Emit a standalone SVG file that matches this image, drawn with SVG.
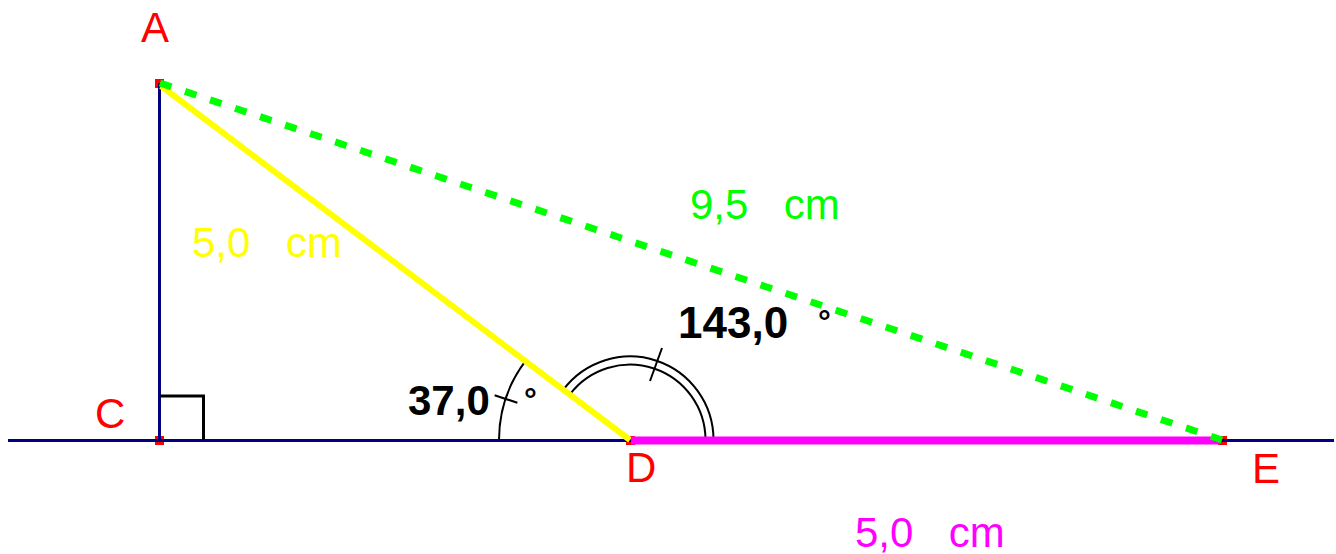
<svg xmlns="http://www.w3.org/2000/svg" width="1336" height="554" viewBox="0 0 1336 554">
<style>
text{font-family:"Liberation Sans",Arial,sans-serif;font-size:42px;white-space:pre}
.pt{fill:#ff0000}
.lbl{fill:#ff0000}
.ang{fill:#000000;font-weight:bold}
.big{font-size:44px}
.deg{fill:#000000;font-weight:bold;font-size:32px}
.len{word-spacing:6px}
.arc{fill:none;stroke:#000000;stroke-width:2}
.axis{stroke:#000080;stroke-width:3;fill:none}
</style>
<rect width="1336" height="554" fill="#ffffff"/>
<g id="A">
<rect class="pt" x="155" y="79" width="9" height="9"/>
<text class="lbl" x="141" y="42">A</text>
</g>
<g id="C">
<rect class="pt" x="155" y="436" width="9" height="9"/>
<text class="lbl" x="95" y="428">C</text>
</g>
<g id="D">
<rect class="pt" x="626" y="436" width="9" height="9"/>
<text class="lbl" x="626" y="482">D</text>
</g>
<g id="E">
<rect class="pt" x="1218" y="436" width="9" height="9"/>
<text class="lbl" x="1252" y="483">E</text>
</g>
<g id="angles">
<path class="arc" d="M 499 440 A 131 131 0 0 1 525.4 361.2"/>
<line class="arc" x1="494.6" y1="395.2" x2="517.4" y2="402.8"/>
<text class="ang" x="408" y="415">37,0</text>
<text class="deg" x="524" y="410">°</text>
<path class="arc" d="M 713.5 440 A 83.5 83.5 0 0 0 563.3 389.7"/>
<path class="arc" d="M 705.5 440 A 75.5 75.5 0 0 0 569.7 394.6"/>
<line class="arc" x1="650" y1="381" x2="662" y2="348"/>
<text class="ang big" x="678" y="338">143,0</text>
<text class="deg" x="818" y="332">°</text>
</g>
<g id="connectors">
<line class="axis" x1="8" y1="440.5" x2="1334" y2="440.5"/>
<line class="axis" x1="159.5" y1="83" x2="159.5" y2="440"/>
<polyline points="160,396 203.5,396 203.5,440" fill="none" stroke="#000000" stroke-width="3"/>
<line x1="161" y1="86" x2="630" y2="440" stroke="#ffff00" stroke-width="6"/>
<line x1="631" y1="440.5" x2="1220" y2="440.5" stroke="#ff00ff" stroke-width="8"/>
<line x1="160" y1="83" x2="1222" y2="440" stroke="#00ff00" stroke-width="7" stroke-dasharray="12 14.4"/>
</g>
<g id="lengths">
<text class="len" x="192" y="257" fill="#ffff00">5,0  cm</text>
<text class="len" x="690" y="219" fill="#00ff00">9,5  cm</text>
<text class="len" x="855" y="547" fill="#ff00ff">5,0  cm</text>
</g>
</svg>
